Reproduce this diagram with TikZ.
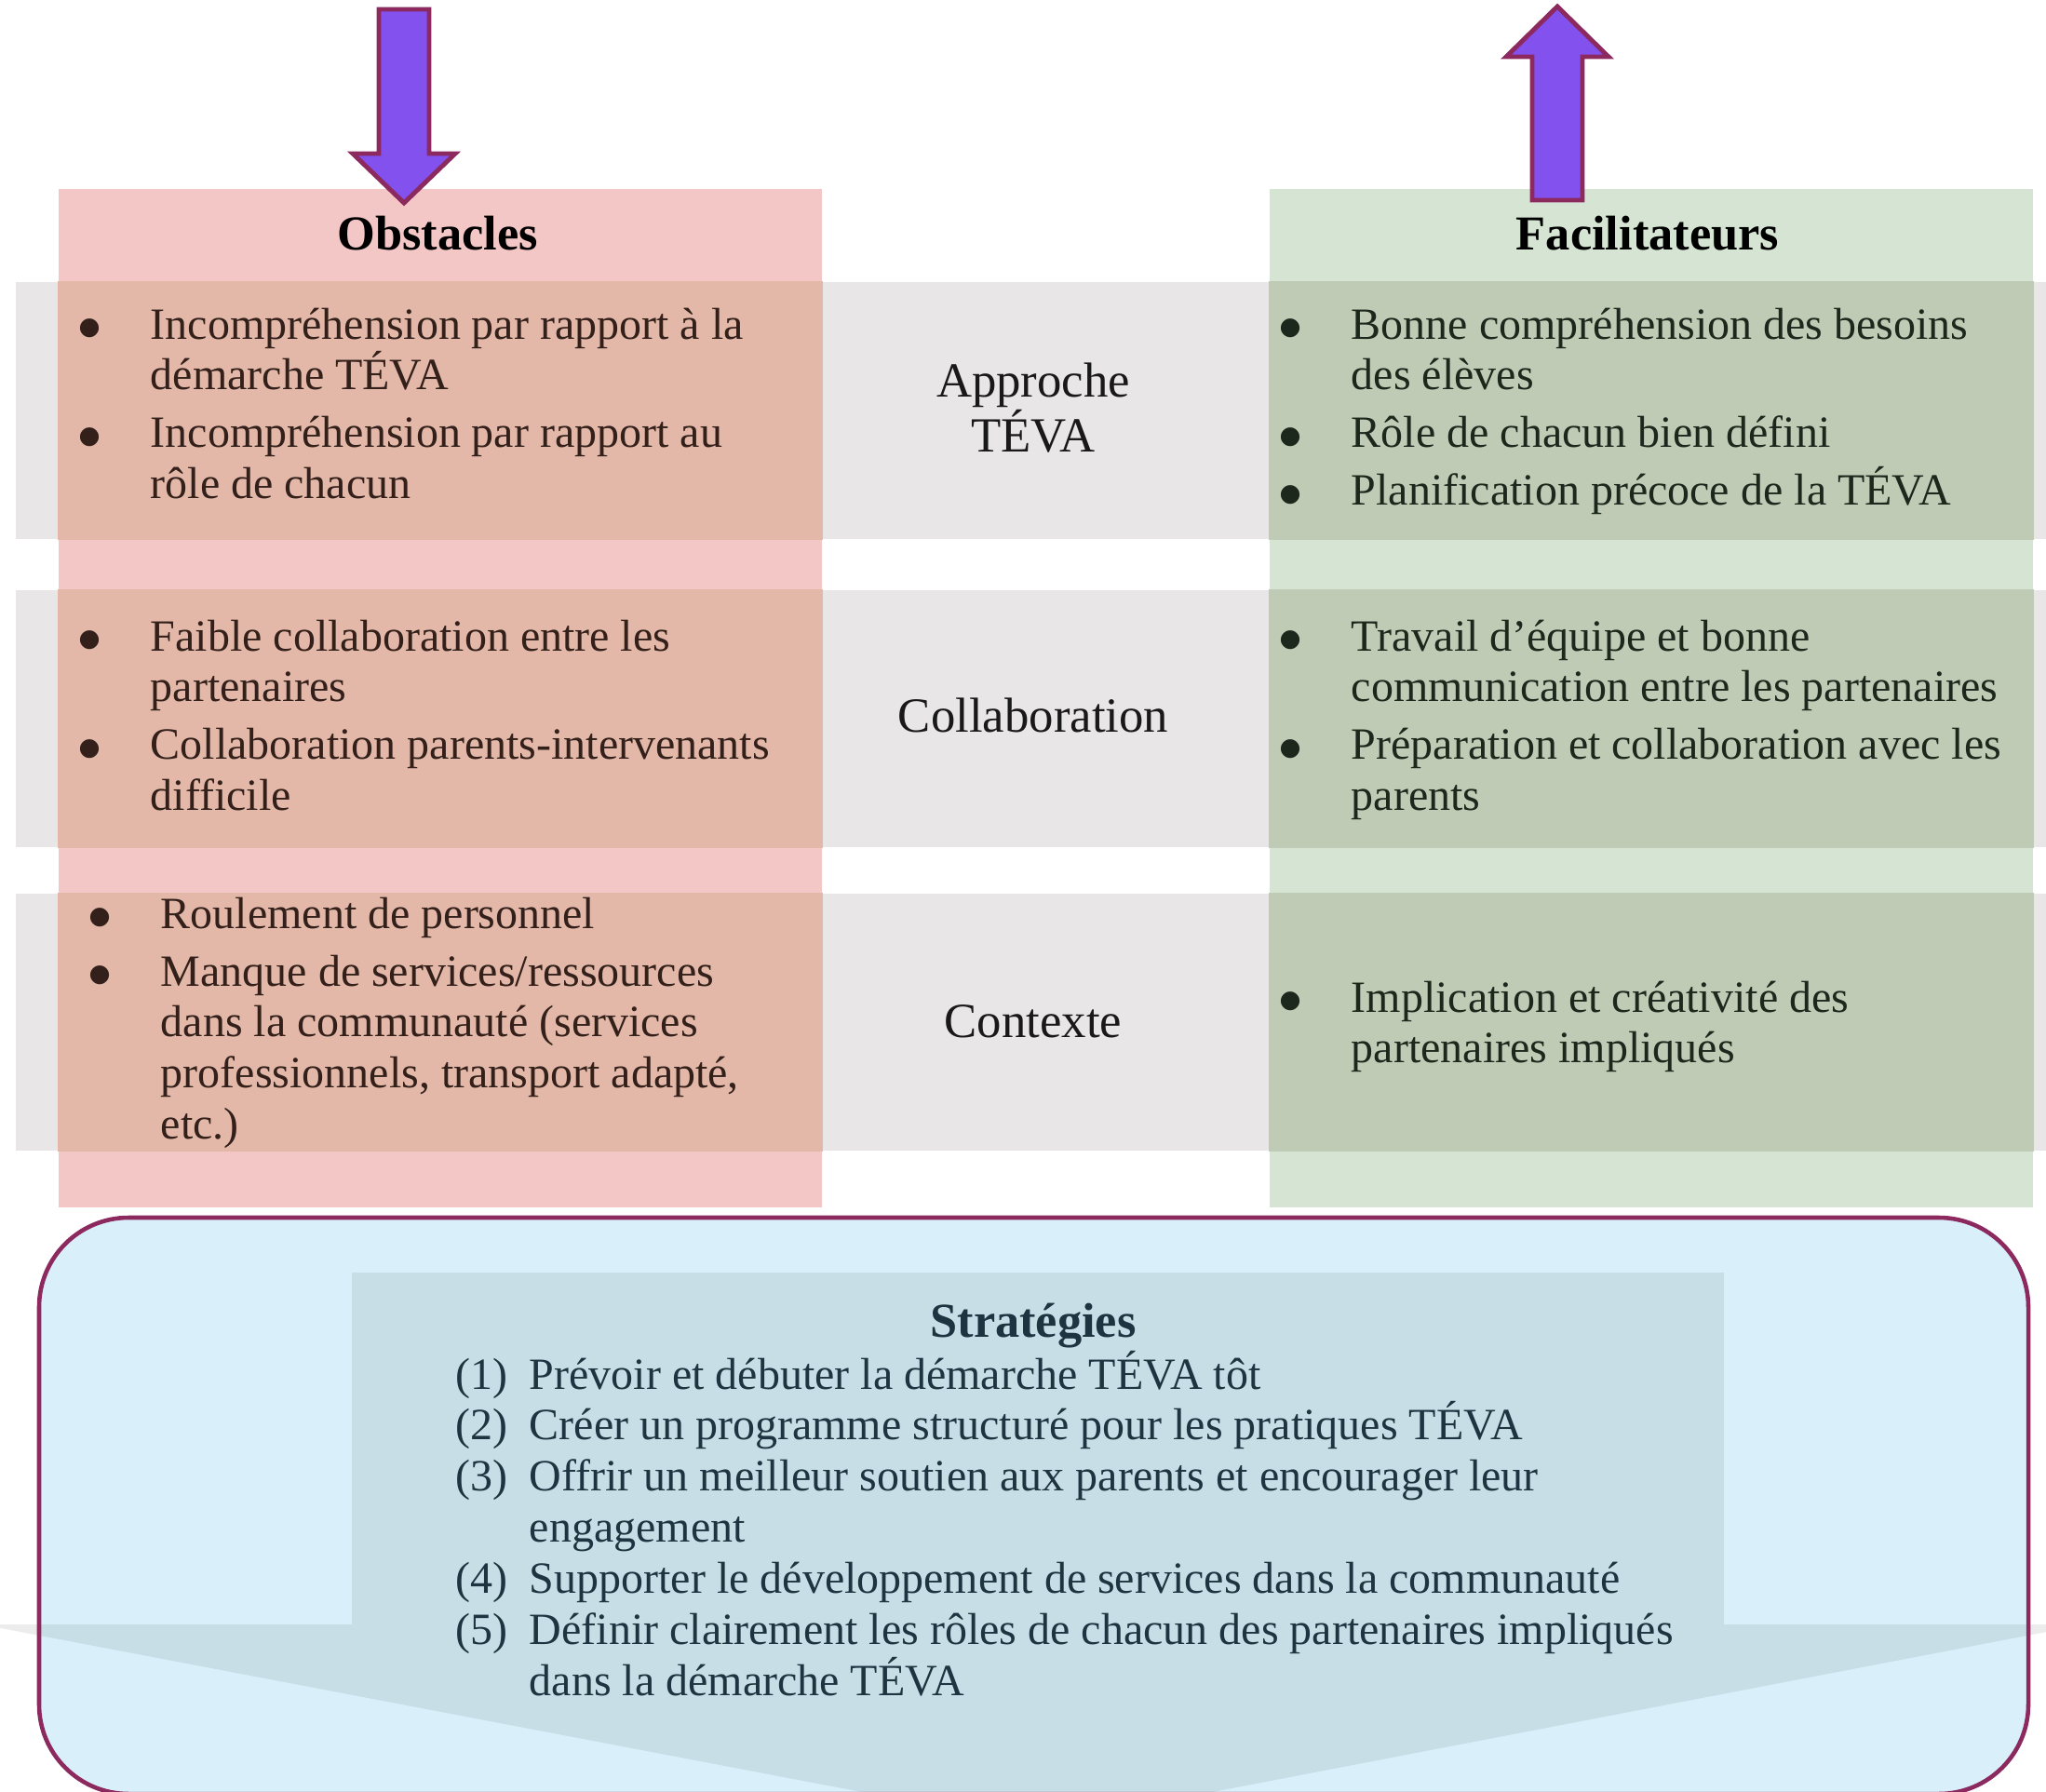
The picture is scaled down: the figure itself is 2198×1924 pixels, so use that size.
\documentclass[tikz,border=0pt]{standalone}
\usepackage{fontspec}
\setmainfont{Liberation Serif}
\newfontfamily\symboles{DejaVu Sans}
\usepackage{array}
\usetikzlibrary{positioning}

\definecolor{rose}{HTML}{F4C7C7}
\definecolor{roseGris}{HTML}{E3B8A8}
\definecolor{vert}{HTML}{D5E4D3}
\definecolor{vertGris}{HTML}{C0CBB6}
\definecolor{gris}{HTML}{E8E6E7}
\definecolor{bleu}{HTML}{D9F0FA}
\definecolor{bordeaux}{HTML}{8C2A5F}
\definecolor{violet1}{HTML}{8251EE}
\definecolor{texteRose}{HTML}{33201A}
\definecolor{texteVert}{HTML}{1C281C}
\definecolor{texteBleu}{HTML}{1E3440}

\newcolumntype{B}{@{}p{0.77cm}@{}}
\newcolumntype{N}{@{}p{0.79cm}@{}}
\newcommand{\puce}{\raisebox{1.2pt}{\symboles\fontsize{7.5}{9}\selectfont ●}}
\newcommand{\teva}{T\smash{É}VA}

\begin{document}
\begin{tikzpicture}[x=0.01cm, y=-0.01cm,
    fleche/.style={draw=bordeaux, fill=violet1, line width=1.4pt},
    colonne/.style={rectangle, inner sep=0pt,
      minimum width=8.2cm, minimum height=10.94cm},
    bande/.style={rectangle, fill=gris, inner sep=0pt,
      minimum width=21.92cm, minimum height=2.76cm},
    titre/.style={inner sep=0pt, font=\fontsize{14.9}{16.5}\selectfont\bfseries},
    theme/.style={inner sep=0pt, align=center, text=black!90,
      font=\fontsize{15}{16.7}\selectfont},
    liste/.style={anchor=north west, inner sep=0pt,
      font=\fontsize{13.65}{15.6}\selectfont},
    cadre/.style={draw=bordeaux, line width=1.3pt, rounded corners=0.96cm}]

    \useasboundingbox (0,0) rectangle (2198,1924);

    % colonnes
    \node[colonne, fill=rose] (obs) at (473,750) {};
    \node[colonne, fill=vert] (fac) at (1774,750) {};

    % bandes grises
    \node[bande] (b1) at (1114,441) {};
    \node[bande] (b2) at (1114,772) {};
    \node[bande] (b3) at (1114,1098) {};
    \foreach \band in {b1,b2,b3} {
      \fill[roseGris] (obs.west |- \band.north) rectangle (obs.east |- \band.south);
      \fill[vertGris] (fac.west |- \band.north) rectangle (fac.east |- \band.south);
    }

    % fleches
    \draw[fleche] (407,10) -- (461,10) -- (461,165) -- (489,165)
      -- (434,218) -- (379,165) -- (407,165) -- cycle;
    \draw[fleche] (1646,215) -- (1700,215) -- (1700,61) -- (1728,61)
      -- (1673,7) -- (1618,61) -- (1646,61) -- cycle;

    \node[titre] (tobs) at (470,251) {Obstacles};
    \node[titre] (tfac) at (1770,251) {Facilitateurs};

    \node[theme] (approche) at (1110,438) {Approche\\TÉVA};
    \node[theme] (collab) at (1110,768) {Collaboration};
    \node[theme] (contexte) at (1110,1097) {Contexte};

    % obstacles
    \node[liste, text=texteRose] (obs1) at (84,325) {\begin{tabular}{Bl}
      \puce & Incompréhension par rapport à la\\
      & démarche \teva\\[2pt]
      \puce & Incompréhension par rapport au\\
      & rôle de chacun
    \end{tabular}};
    \node[liste, text=texteRose] (obs2) at (84,660) {\begin{tabular}{Bl}
      \puce & Faible collaboration entre les\\
      & partenaires\\[2pt]
      \puce & Collaboration parents-intervenants\\
      & difficile
    \end{tabular}};
    \node[liste, text=texteRose] (obs3) at (95,958) {\begin{tabular}{Bl}
      \puce & Roulement de personnel\\[2pt]
      \puce & Manque de services/ressources\\
      & dans la communauté (services\\
      & professionnels, transport adapté,\\
      & etc.)
    \end{tabular}};

    % facilitateurs
    \node[liste, text=texteVert] (fac1) at (1374,325) {\begin{tabular}{Bl}
      \puce & Bonne compréhension des besoins\\
      & des élèves\\[2pt]
      \puce & Rôle de chacun bien défini\\[2pt]
      \puce & Planification précoce de la \teva
    \end{tabular}};
    \node[liste, text=texteVert] (fac2) at (1374,660) {\begin{tabular}{Bl}
      \puce & Travail d’équipe et bonne\\
      & communication entre les partenaires\\[2pt]
      \puce & Préparation et collaboration avec les\\
      & parents
    \end{tabular}};
    \node[liste, text=texteVert] (fac3) at (1374,1048) {\begin{tabular}{Bl}
      \puce & Implication et créativité des\\
      & partenaires impliqués
    \end{tabular}};

    % strategies
    \fill[bleu, rounded corners=0.96cm] (42,1308) rectangle (2179,1927);
    \fill[black, fill opacity=0.075] (378,1367) -- (1852,1367) -- (1852,1745)
      -- (2240,1745) -- (1115,1961) -- (-20,1745) -- (378,1745) -- cycle;
    \draw[cadre] (42,1308) rectangle (2179,1927);

    \node[titre, text=texteBleu] (tstrat) at (1110,1424) {Stratégies};
    \node[liste, text=texteBleu] (strat) at (489,1453) {\begin{tabular}{Nl}
      (1) & Prévoir et débuter la démarche \teva{} tôt\\
      (2) & Créer un programme structuré pour les pratiques \teva\\
      (3) & Offrir un meilleur soutien aux parents et encourager leur\\
      & engagement\\
      (4) & Supporter le développement de services dans la communauté\\
      (5) & Définir clairement les rôles de chacun des partenaires impliqués\\
      & dans la démarche \teva
    \end{tabular}};
\end{tikzpicture}
\end{document}
